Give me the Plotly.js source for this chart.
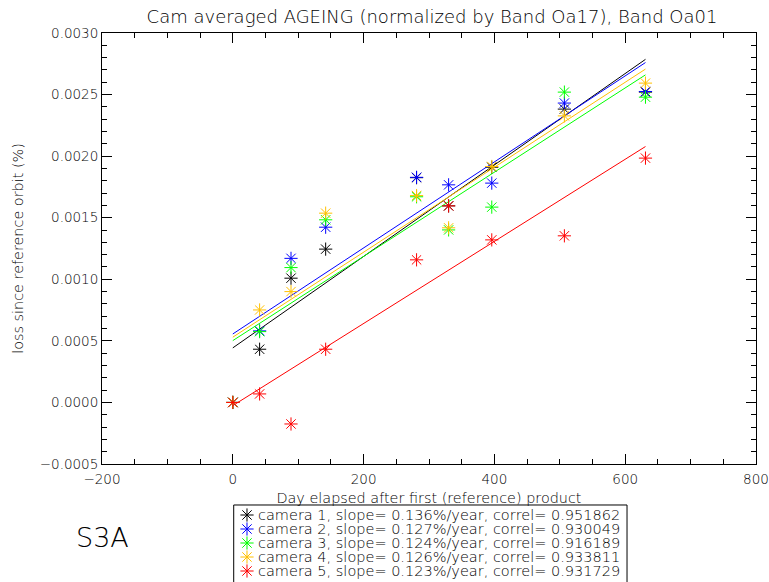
<!DOCTYPE html>
<html><head><meta charset="utf-8">
<script src="https://cdn.plot.ly/plotly-3.0.1.min.js"></script>
<style>html,body{margin:0;padding:0;background:#fff}#chart{width:769px;height:582px}</style>
</head><body><div id="chart"></div>
<script>
// ---- data ----
const days = [0, 41, 89, 142, 281, 330, 396, 507, 631];
const cameras = ['camera 1', 'camera 2', 'camera 3', 'camera 4', 'camera 5'];
const colors = ['#000000', '#0000ff', '#00ff00', '#ffc000', '#ff0000'];
const cam1 = [0, 0.000432, 0.001009, 0.001245, 0.001825, 0.001596, 0.00191, 0.002382, 0.00252];
const cam2 = [0, 0.000581, 0.00117, 0.001423, 0.001828, 0.001767, 0.001781, 0.002431, 0.002525];
const cam3 = [0, 0.000575, 0.001095, 0.001483, 0.00167, 0.001401, 0.001586, 0.00252, 0.002479];
const cam4 = [0, 0.000751, 0.0009, 0.001537, 0.00168, 0.001418, 0.001916, 0.002327, 0.002593];
const cam5 = [0, 0.000069, -0.000175, 0.000432, 0.001158, 0.001596, 0.00132, 0.001353, 0.001984];
const fitDays = [0, 631];
const fitStart = [0.000443, 0.000556, 0.000502, 0.00053, -0.000026];
const fitEnd = [0.002786, 0.00276, 0.00266, 0.002707, 0.002078];
const slopes = ['0.136', '0.127', '0.124', '0.126', '0.123'];
const correls = ['0.951862', '0.930049', '0.916189', '0.933811', '0.931729'];
const legendKey = ['key'];

const series = [cam1, cam2, cam3, cam4, cam5];
const FONT = 'DejaVu Sans, sans-serif';
const W = 200;

const traces = [];
series.forEach((vals, i) => {
  traces.push({
    type: 'scatter', mode: 'markers', x: days, y: vals, xaxis: 'x', yaxis: 'y',
    marker: {symbol: 'asterisk-open', size: 11, color: colors[i], line: {width: 1, color: colors[i]}},
    hoverinfo: 'skip', showlegend: false
  });
  traces.push({
    type: 'scatter', mode: 'lines', x: fitDays, y: [fitStart[i], fitEnd[i]], xaxis: 'x', yaxis: 'y',
    line: {color: colors[i], width: 1}, hoverinfo: 'skip', showlegend: false
  });
});
// legend keys
traces.push({
  type: 'scatter', mode: 'markers', x: cameras.map(() => legendKey[0]), y: cameras,
  xaxis: 'x2', yaxis: 'y2',
  marker: {symbol: 'asterisk-open', size: 11, color: colors, line: {width: 1, color: colors}},
  hoverinfo: 'skip', showlegend: false
});

const annotations = cameras.map((c, i) => ({
  text: c + ', slope= ' + slopes[i] + '%/year, correl= ' + correls[i],
  xref: 'paper', x: 0.237, xanchor: 'left',
  yref: 'y2', y: i, yanchor: 'middle', borderpad: 0,
  showarrow: false, font: {family: FONT, size: 14.5, color: '#000', weight: W}
}));
annotations.push({
  text: 'S3A', xref: 'paper', x: 0.0, xanchor: 'center',
  yref: 'paper', y: 0.0785, yanchor: 'middle', showarrow: false,
  font: {family: FONT, size: 27, color: '#000', weight: W}
});

const layout = {
  width: 769, height: 582,
  margin: {l: 102, r: 13, t: 33, b: 1},
  paper_bgcolor: '#ffffff', plot_bgcolor: '#ffffff',
  showlegend: false,
  font: {family: FONT, color: '#000', size: 13.5, weight: W},
  title: {
    text: 'Cam averaged AGEING (normalized by Band Oa17), Band Oa01',
    font: {family: FONT, size: 18, color: '#000', weight: W},
    xref: 'container', x: 0.5618, xanchor: 'center',
    yref: 'container', y: 1 - 17 / 582, yanchor: 'middle'
  },
  xaxis: {
    domain: [0, 1], anchor: 'y', range: [-200, 800], tick0: 0, dtick: 200,
    ticks: 'inside', ticklen: 10, tickwidth: 1, tickcolor: '#000',
    minor: {dtick: 50, ticks: 'inside', ticklen: 5, tickwidth: 1, tickcolor: '#000', showgrid: false},
    showline: true, linecolor: '#000', linewidth: 1, mirror: 'allticks',
    showgrid: false, zeroline: false, ticklabelstandoff: 3,
    tickfont: {family: FONT, size: 13.5, color: '#000', weight: W},
    title: {text: 'Day elapsed after first (reference) product', font: {family: FONT, size: 14.4, color: '#000', weight: W}, standoff: 6}
  },
  yaxis: {
    domain: [0.2135, 1], anchor: 'x', range: [-0.0005, 0.003], tick0: 0, dtick: 0.0005,
    tickformat: '.4f',
    ticks: 'inside', ticklen: 10, tickwidth: 1, tickcolor: '#000',
    minor: {dtick: 0.0001, ticks: 'inside', ticklen: 5, tickwidth: 1, tickcolor: '#000', showgrid: false},
    showline: true, linecolor: '#000', linewidth: 1, mirror: 'allticks',
    showgrid: false, zeroline: false,
    tickfont: {family: FONT, size: 13.5, color: '#000', weight: W},
    title: {text: 'loss since reference orbit (%)', font: {family: FONT, size: 14.4, color: '#000', weight: W}, standoff: 12}
  },
  xaxis2: {domain: [0.211, 0.2324], anchor: 'y2', type: 'category', range: [-0.5, 0.5], visible: false, fixedrange: true},
  yaxis2: {domain: [0.00547, 0.1332], anchor: 'x2', type: 'category', range: [4.5, -0.5], visible: false, fixedrange: true},
  shapes: [{
    type: 'rect', xref: 'paper', yref: 'paper', x0: 0.2014, x1: 0.8028, y0: -0.01, y1: 0.1387,
    line: {color: '#000', width: 1}, fillcolor: 'rgba(0,0,0,0)'
  }],
  annotations: annotations
};

Plotly.newPlot('chart', traces, layout, {staticPlot: true, displayModeBar: false});
</script>
</body></html>
